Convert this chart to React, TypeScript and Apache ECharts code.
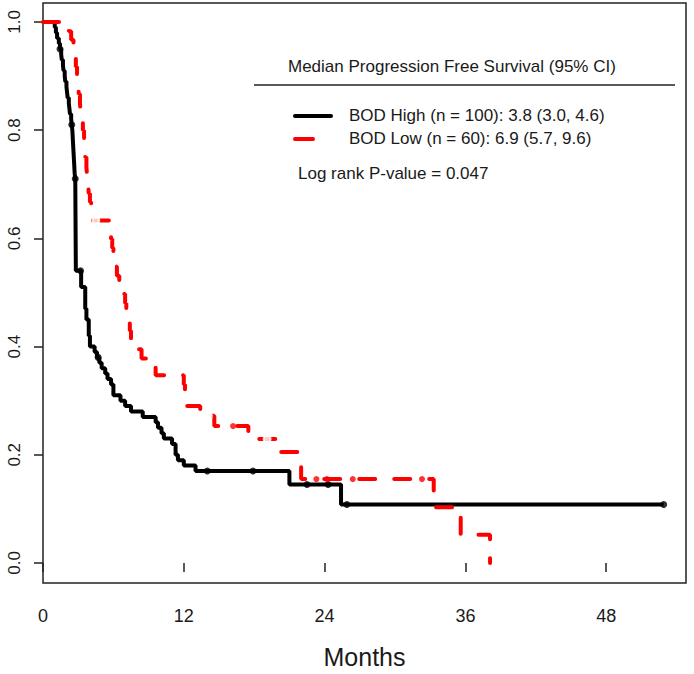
import { useEffect, useRef } from "react";
import * as echarts from "echarts";

const xTicks = [0, 12, 24, 36, 48];
const yTicks = [0, 0.2, 0.4, 0.6, 0.8, 1.0];

// BOD High (n = 100) Kaplan-Meier steps: time (months) and survival after the step
const highTimes = [0, 1.0, 1.1, 1.2, 1.35, 1.45, 1.55, 1.6, 1.7, 1.75, 1.85, 1.9, 2.0, 2.05, 2.1, 2.2, 2.25, 2.3, 2.4, 2.45, 2.5, 2.55, 2.6, 2.65, 2.7, 2.75, 2.8, 3.25, 3.6, 3.7, 3.9, 4.0, 4.4, 4.6, 4.8, 5.0, 5.3, 5.5, 5.8, 6.0, 6.6, 7.0, 7.5, 8.5, 9.6, 9.8, 10.1, 10.3, 11.0, 11.3, 11.5, 12.0, 13.0, 21.0, 25.4, 52.9];
const highSurv = [1.0, 0.99, 0.98, 0.97, 0.96, 0.95, 0.94, 0.93, 0.92, 0.91, 0.9, 0.89, 0.88, 0.87, 0.86, 0.85, 0.84, 0.83, 0.82, 0.81, 0.8, 0.78, 0.76, 0.74, 0.72, 0.71, 0.54, 0.51, 0.47, 0.45, 0.42, 0.4, 0.39, 0.38, 0.37, 0.36, 0.35, 0.34, 0.33, 0.31, 0.3, 0.29, 0.28, 0.27, 0.26, 0.25, 0.24, 0.23, 0.22, 0.2, 0.19, 0.18, 0.17, 0.145, 0.108, 0.108];
const highCensorTimes = [1.45, 2.45, 2.75, 3.2, 4.7, 14.0, 17.9, 22.5, 24.3, 25.9, 52.9];

// BOD Low (n = 60)
const lowTimes = [0, 2.2, 2.4, 2.6, 2.7, 2.8, 2.9, 3.0, 3.05, 3.15, 3.2, 3.3, 3.4, 3.5, 3.55, 3.6, 3.7, 3.75, 3.85, 3.9, 4.0, 4.1, 4.2, 5.7, 5.8, 5.9, 6.0, 6.1, 6.3, 6.5, 6.9, 7.0, 7.1, 7.2, 7.4, 7.5, 7.7, 8.4, 9.0, 9.6, 12.0, 12.1, 12.2, 13.4, 14.6, 17.5, 19.8, 21.8, 22.0, 33.3, 35.6, 38.1];
const lowSurv = [1.0, 0.983, 0.967, 0.95, 0.933, 0.917, 0.9, 0.883, 0.867, 0.85, 0.833, 0.817, 0.8, 0.783, 0.767, 0.75, 0.733, 0.717, 0.7, 0.683, 0.667, 0.65, 0.633, 0.616, 0.599, 0.582, 0.565, 0.548, 0.531, 0.514, 0.497, 0.48, 0.463, 0.446, 0.429, 0.412, 0.395, 0.378, 0.361, 0.347, 0.33, 0.31, 0.29, 0.272, 0.253, 0.229, 0.205, 0.18, 0.155, 0.103, 0.052, 0.0];
const lowCircleTimes = [4.5, 14.1, 19.1];
const lowTickTimes = [16.2, 23.3, 24.2, 26.4, 32.3];

const legendTitle = "Median Progression Free Survival (95% CI)";
const legendHigh = "BOD High (n = 100): 3.8 (3.0, 4.6)";
const legendLow = "BOD Low (n = 60): 6.9 (5.7, 9.6)";
const pValueText = "Log rank P-value = 0.047";

function survAt(times: number[], surv: number[], t: number) {
  let v = surv[0];
  for (let i = 0; i < times.length; i++) {
    if (times[i] <= t) v = surv[i];
  }
  return v;
}

export default function App() {
  const ref = useRef<HTMLDivElement>(null);
  useEffect(() => {
    document.body.style.margin = "0";
    if (!ref.current) return;
    const chart = echarts.init(ref.current, null, { renderer: "svg" });
    const font = "'Liberation Sans', Arial, sans-serif";
    const txt = "#1a1a1a";
    const highData = highTimes.map((t, i) => [t, highSurv[i]]);
    const lowData = lowTimes.map((t, i) => [t, lowSurv[i]]);
    chart.setOption({
      animation: false,
      backgroundColor: "#fff",
      grid: {
        left: 43,
        right: 8,
        top: 3,
        bottom: 87,
        show: true,
        borderColor: "#222",
        borderWidth: 1.5,
        backgroundColor: "transparent",
      },
      xAxis: {
        type: "value",
        min: 0,
        max: 54.8,
        splitLine: { show: false },
        axisLine: { show: false },
        axisTick: { show: true, length: 9, lineStyle: { color: "#222", width: 1.5 }, customValues: xTicks },
        axisLabel: { customValues: xTicks, fontSize: 18, color: txt, fontFamily: font, margin: 24 },
        name: "Months",
        nameLocation: "middle",
        nameGap: 61,
        nameTextStyle: { fontSize: 25, color: txt, fontFamily: font },
      },
      yAxis: {
        type: "value",
        min: -0.037,
        max: 1.035,
        splitLine: { show: false },
        axisLine: { show: false },
        axisTick: { show: true, length: 9, lineStyle: { color: "#222", width: 1.5 }, customValues: yTicks },
        axisLabel: {
          customValues: yTicks,
          rotate: 90,
          fontSize: 17,
          color: txt,
          fontFamily: font,
          margin: 20,
          formatter: (v: number) => v.toFixed(1),
        },
      },
      series: [
        {
          type: "line",
          step: "end",
          data: highData,
          showSymbol: false,
          symbol: "none",
          lineStyle: { color: "#000", width: 4 },
          z: 2,
        },
        {
          type: "scatter",
          data: highCensorTimes.map((t) => [t, survAt(highTimes, highSurv, t)]),
          symbol: "circle",
          symbolSize: 7,
          itemStyle: { color: "#000" },
          z: 3,
        },
        {
          type: "line",
          step: "end",
          data: lowData,
          showSymbol: false,
          symbol: "none",
          lineStyle: { color: "#ff0000", width: 4, type: [16, 19], cap: "round" },
          z: 4,
        },
        {
          type: "scatter",
          data: lowCircleTimes.map((t) => [t, survAt(lowTimes, lowSurv, t)]),
          symbol: "emptyCircle",
          symbolSize: 7,
          itemStyle: { color: "#fff", borderColor: "#ff0000", borderWidth: 1.5 },
          z: 5,
        },
        {
          type: "scatter",
          data: lowTickTimes.map((t) => [t, survAt(lowTimes, lowSurv, t)]),
          symbol: "circle",
          symbolSize: 6,
          itemStyle: { color: "#ff0000" },
          z: 5,
        },
      ],
      graphic: [
        {
          type: "text",
          left: 288,
          top: 58,
          style: { text: legendTitle, font: `17px ${font}`, fill: txt },
        },
        {
          type: "line",
          shape: { x1: 254, y1: 85, x2: 675, y2: 85 },
          style: { stroke: "#222", lineWidth: 1.5 },
        },
        {
          type: "line",
          shape: { x1: 295, y1: 116, x2: 331, y2: 116 },
          style: { stroke: "#000", lineWidth: 4, lineCap: "round" },
        },
        {
          type: "text",
          left: 349,
          top: 107,
          style: { text: legendHigh, font: `17px ${font}`, fill: txt },
        },
        {
          type: "line",
          shape: { x1: 295, y1: 139, x2: 313, y2: 139 },
          style: { stroke: "#ff0000", lineWidth: 4, lineCap: "round" },
        },
        {
          type: "text",
          left: 349,
          top: 130,
          style: { text: legendLow, font: `17px ${font}`, fill: txt },
        },
        {
          type: "text",
          left: 298,
          top: 165,
          style: { text: pValueText, font: `17px ${font}`, fill: txt },
        },
      ],
    });
    return () => chart.dispose();
  }, []);
  return <div ref={ref} style={{ width: 694, height: 674 }} />;
}
